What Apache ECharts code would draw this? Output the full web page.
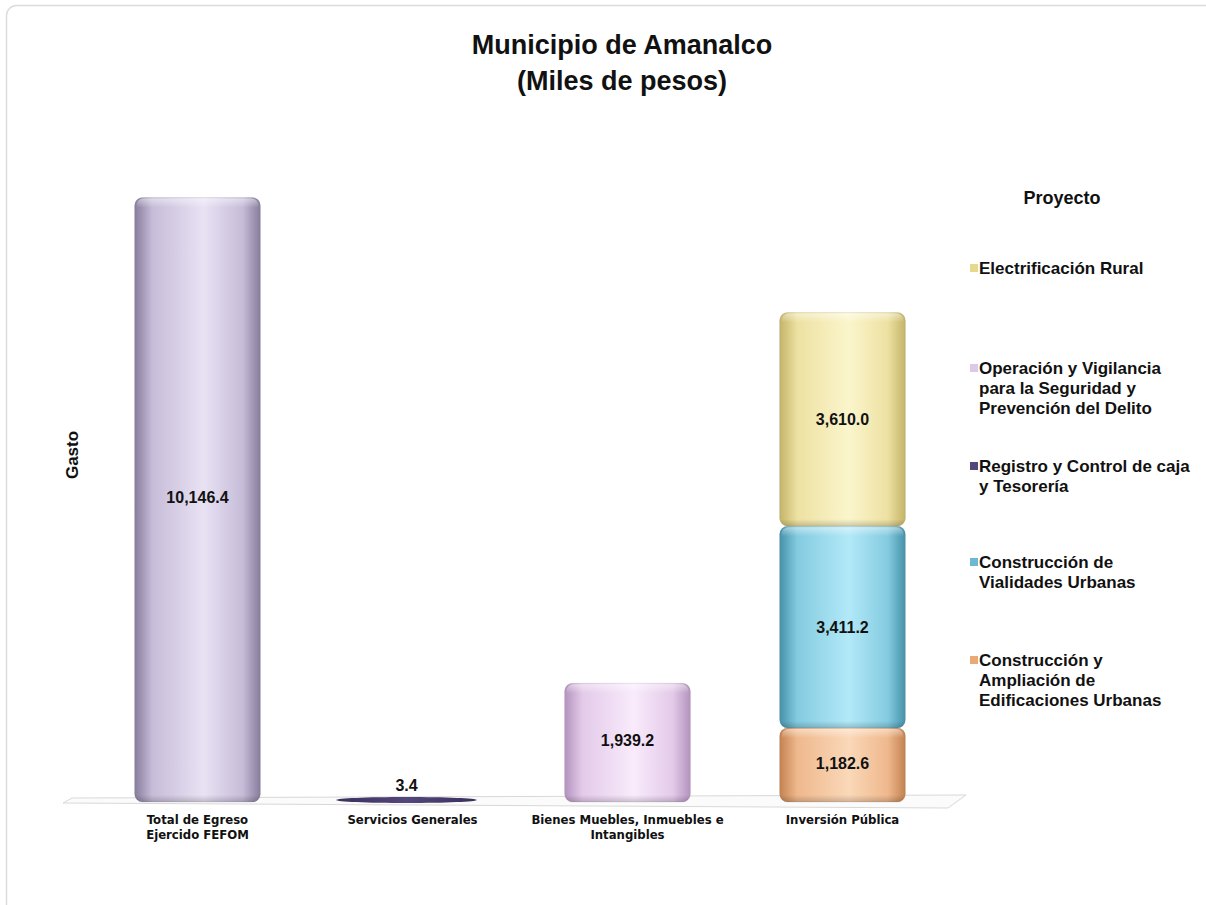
<!DOCTYPE html>
<html>
<head>
<meta charset="utf-8">
<script src="https://cdn.jsdelivr.net/npm/echarts@6/dist/echarts.min.js"></script>
<style>
html,body{margin:0;padding:0;background:#fff;}
#chart{width:1206px;height:905px;}
</style>
</head>
<body>
<div id="chart"></div>
<script>
// ---- DATA ----
const categories = ['Total de Egreso\nEjercido FEFOM', 'Servicios Generales', 'Bienes Muebles, Inmuebles e\nIntangibles', 'Inversión Pública'];
const totalEgreso      = [10146.4, null, null, null];
const registroCaja     = [null, 3.4, null, null];
const operacionVigil   = [null, null, 1939.2, null];
const ampliacionEdif   = [null, null, null, 1182.6];
const vialidades       = [null, null, null, 3411.2];
const electrificacion  = [null, null, null, 3610.0];

const nameTotal = 'Total de Egreso Ejercido FEFOM';
const nameRegistro = 'Registro y Control de caja y Tesorería';
const nameOperacion = 'Operación y Vigilancia para la Seguridad y Prevención del Delito';
const nameAmpliacion = 'Construcción y Ampliación de Edificaciones Urbanas';
const nameVialidades = 'Construcción de Vialidades Urbanas';
const nameElectrificacion = 'Electrificación Rural';

const legendOrder = [nameElectrificacion, nameOperacion, nameRegistro, nameVialidades, nameAmpliacion];
const legendLines = {};
legendLines[nameElectrificacion] = ['Electrificación Rural'];
legendLines[nameOperacion] = ['Operación y Vigilancia', 'para la Seguridad y', 'Prevención del Delito'];
legendLines[nameRegistro] = ['Registro y Control de caja', 'y Tesorería'];
legendLines[nameVialidades] = ['Construcción de', 'Vialidades Urbanas'];
legendLines[nameAmpliacion] = ['Construcción y', 'Ampliación de', 'Edificaciones Urbanas'];

// ---- STYLE ----
const palette = {};
palette[nameTotal]          = {dark:'#877d9c', mid:'#c6bcd8', light:'#e9e2f4', icon:'#c4b9d6'};
palette[nameRegistro]       = {dark:'#3a2f5c', mid:'#54477c', light:'#6d5f96', icon:'#54477c'};
palette[nameOperacion]      = {dark:'#b493be', mid:'#e3cae9', light:'#f9ebfc', icon:'#ddc8e6'};
palette[nameAmpliacion]     = {dark:'#c48250', mid:'#efb88d', light:'#fad8b8', icon:'#e8a878'};
palette[nameVialidades]     = {dark:'#4692aa', mid:'#84cbe0', light:'#b2e9f8', icon:'#6ab8d2'};
palette[nameElectrificacion]= {dark:'#c4b468', mid:'#ede1a2', light:'#fbf5cc', icon:'#e6d88c'};

const labelFont = 'bold 16px "Liberation Sans", Arial, sans-serif';

function fmt(v){
  return v.toLocaleString('en-US',{minimumFractionDigits:1, maximumFractionDigits:1});
}

function makeRender(name){
  const c = palette[name];
  return function(params, api){
    const cat = api.value(0), base = api.value(1), top = api.value(2);
    const p0 = api.coord([cat, base]);
    const p1 = api.coord([cat, top]);
    const bw = api.size([1,0])[0]*0.585;
    const cx = p0[0];
    const x = cx - bw/2;
    const extra = base === 0 ? 4 : 0;
    const h = p0[1] - p1[1] + extra;
    const val = top - base;
    const children = [];
    if (h < 8) {
      children.push({type:'ellipse', shape:{cx:cx - 6, cy:p0[1]+2, rx:bw*0.56, ry:3},
        style:{fill:new echarts.graphic.LinearGradient(0,0,1,0,[{offset:0,color:c.dark},{offset:0.5,color:c.mid},{offset:1,color:c.dark}])}});
      children.push({type:'text', style:{text:fmt(val), x:cx - 6, y:p1[1]-12, textAlign:'center', textVerticalAlign:'middle', font:labelFont, fill:'#111'}});
    } else {
      children.push({type:'rect', shape:{x:x, y:p1[1], width:bw, height:h, r:8},
        style:{fill:new echarts.graphic.LinearGradient(0,0,1,0,[
          {offset:0,color:c.dark},{offset:0.14,color:c.mid},{offset:0.55,color:c.light},
          {offset:0.86,color:c.mid},{offset:1,color:c.dark}]),
          stroke:'rgba(0,0,0,0.08)', lineWidth:1}});
      children.push({type:'rect', shape:{x:x+2, y:p1[1]+1, width:bw-4, height:9, r:[7,7,0,0]},
        style:{fill:new echarts.graphic.LinearGradient(0,0,0,1,[{offset:0,color:'rgba(255,255,255,0.45)'},{offset:1,color:'rgba(255,255,255,0)'}])}});
      children.push({type:'rect', shape:{x:x+1, y:p1[1]+h-7, width:bw-2, height:7, r:[0,0,7,7]},
        style:{fill:new echarts.graphic.LinearGradient(0,0,0,1,[{offset:0,color:'rgba(0,0,0,0)'},{offset:1,color:'rgba(0,0,0,0.18)'}])}});
      children.push({type:'text', style:{text:fmt(val), x:cx, y:(p0[1]+p1[1])/2, textAlign:'center', textVerticalAlign:'middle', font:labelFont, fill:'#111'}});
    }
    return {type:'group', children:children};
  };
}

// stack order bottom -> top
const seriesDefs = [
  [nameTotal, totalEgreso],
  [nameRegistro, registroCaja],
  [nameOperacion, operacionVigil],
  [nameAmpliacion, ampliacionEdif],
  [nameVialidades, vialidades],
  [nameElectrificacion, electrificacion]
];
const running = categories.map(()=>0);
const series = seriesDefs.map(function(def){
  const data = [];
  def[1].forEach(function(v, i){
    if (v == null) return;
    data.push([i, running[i], running[i] + v]);
    running[i] += v;
  });
  return {
    type:'custom', name:def[0], renderItem:makeRender(def[0]),
    itemStyle:{color:palette[def[0]].icon},
    encode:{x:0, y:[1,2]}, data:data, silent:true
  };
});

const legendFirstLineY = [268, 368, 466, 562, 660];
const legendLH = 20;
const legends = legendOrder.map(function(n, i){
  const k = legendLines[n].length;
  return {
    data:[n], orient:'vertical', left:970, top: legendFirstLineY[i] - (k-0.5)*legendLH,
    padding:0, itemWidth:8, itemHeight:8, itemGap:0, selectedMode:false,
    icon:'rect',
    formatter:function(name){
      const lines = legendLines[name];
      const pad = [];
      for (let j=1;j<lines.length;j++) pad.push('');
      return pad.concat(lines).join('\n');
    },
    textStyle:{fontFamily:'"Liberation Sans", Arial, sans-serif', fontWeight:'bold', fontSize:17, color:'#111', lineHeight:legendLH, padding:[0,0,0,-4]}
  };
});

const chart = echarts.init(document.getElementById('chart'), null, {renderer:'svg'});
chart.setOption({
  backgroundColor:'#fff',
  animation:false,
  title:[{
    text:'Municipio de Amanalco\n(Miles de pesos)', left:617, top:22, textAlign:'center',
    textStyle:{fontFamily:'"Liberation Sans", Arial, sans-serif', fontWeight:'bold', fontSize:27, lineHeight:36, color:'#111'}
  },{
    text:'Proyecto', left:1057, top:184, textAlign:'center',
    textStyle:{fontFamily:'"Liberation Sans", Arial, sans-serif', fontWeight:'bold', fontSize:18, color:'#111'}
  }],
  legend:legends,
  grid:{left:90, right:256, top:147, bottom:107},
  xAxis:{type:'category', data:categories, axisLine:{show:false}, axisTick:{show:false},
    axisLabel:{margin:14, interval:0, fontFamily:'"Liberation Sans Narrow", "DejaVu Sans Condensed", Arial, sans-serif', fontWeight:'bold', fontSize:13, lineHeight:15, color:'#111'}},
  yAxis:{type:'value', min:0, max:11000, show:false},
  graphic:[
    {type:'rect', shape:{x:6.5, y:5.5, width:1220, height:920, r:10}, style:{fill:'none', stroke:'#dcdcdc', lineWidth:1.5}, z:-10},
    {type:'polygon', shape:{points:[[72,798],[966,795],[948,808],[63,803]]}, style:{fill:'#fbfbfb', stroke:'#d8d8d8', lineWidth:1}, z:-5},
    {type:'text', x:72, y:455, rotation:Math.PI/2, style:{text:'Gasto', textAlign:'center', textVerticalAlign:'middle', font:'bold 17px "Liberation Sans", Arial, sans-serif', fill:'#111'}}
  ],
  series:series
});
</script>
</body>
</html>
